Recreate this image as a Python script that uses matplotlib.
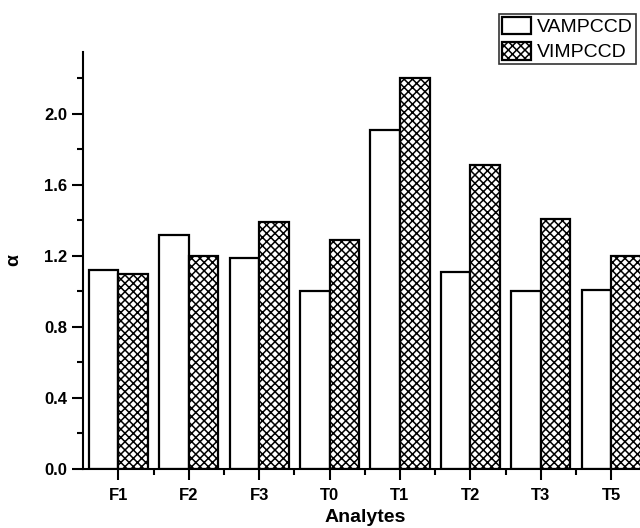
import matplotlib
matplotlib.use("Agg")
import matplotlib.pyplot as plt
import numpy as np
from matplotlib.ticker import MultipleLocator, FormatStrFormatter

plt.rcParams['font.family'] = ['Liberation Sans', 'DejaVu Sans']
plt.rcParams['hatch.linewidth'] = 1.1

# data
analytes = ['F1', 'F2', 'F3', 'T0', 'T1', 'T2', 'T3', 'T5']
vam = [1.12, 1.32, 1.19, 1.00, 1.91, 1.11, 1.00, 1.01]
vim = [1.10, 1.20, 1.39, 1.29, 2.20, 1.71, 1.41, 1.20]

fig = plt.figure(figsize=(6.4, 5.28), dpi=100)
ax = fig.add_axes([0.13, 0.112, 0.88, 0.79])

x = np.arange(len(analytes))
w = 0.42
ax.bar(x - w / 2, vam, w, color='white', edgecolor='black', linewidth=1.6, label='VAMPCCD')
ax.bar(x + w / 2, vim, w, color='white', edgecolor='black', linewidth=1.6, hatch='xxxx', label='VIMPCCD')

ax.set_xlim(-0.5, 7.5)
ax.set_ylim(0, 2.35)
ax.set_xticks(x)
ax.set_xticklabels(analytes)
ax.set_xticks(x + 0.5, minor=True)
ax.yaxis.set_major_locator(MultipleLocator(0.4))
ax.yaxis.set_minor_locator(MultipleLocator(0.2))
ax.yaxis.set_major_formatter(FormatStrFormatter('%.1f'))

for s in ['top', 'right']:
    ax.spines[s].set_visible(False)
for s in ['left', 'bottom']:
    ax.spines[s].set_linewidth(1.5)

ax.tick_params(axis='both', which='major', direction='out', length=8, width=1.5, labelsize=12)
ax.tick_params(axis='x', which='major', pad=6)
ax.tick_params(axis='both', which='minor', direction='out', length=4, width=1.5)
for lbl in ax.get_xticklabels() + ax.get_yticklabels():
    lbl.set_fontweight('bold')

ax.set_xlabel('Analytes', fontsize=14, fontweight='bold', labelpad=4)
ax.set_ylabel('α', fontsize=14, fontweight='bold', labelpad=16)

leg = fig.legend(loc='upper right', bbox_to_anchor=(636 / 640, 1 - 14 / 528),
                 fontsize=14, frameon=True, fancybox=False, borderpad=0.15,
                 handlelength=1.5, handleheight=1.0, handletextpad=0.3,
                 labelspacing=0.3, borderaxespad=0)
leg.get_frame().set_edgecolor('black')
leg.get_frame().set_linewidth(1.2)

fig.savefig('out.png', dpi=100)
